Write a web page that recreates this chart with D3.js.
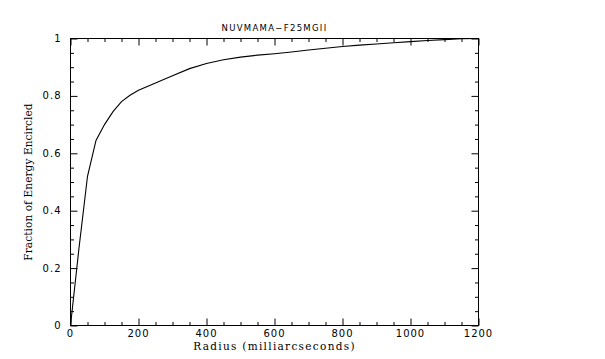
<!DOCTYPE html>
<html>
<head>
<meta charset="utf-8">
<script src="https://cdn.jsdelivr.net/npm/d3@7"></script>
<style>
  body { margin: 0; background: #fff; }
  svg { display: block; }
  .tick-label { font-family: "DejaVu Sans", sans-serif; font-size: 10px; letter-spacing: 1px; fill: #000; }
  .axis-title { font-family: "DejaVu Serif", serif; font-size: 10.5px; letter-spacing: 0.6px; fill: #000; }
</style>
</head>
<body>
<svg id="chart" width="605" height="359"></svg>
<script>
// encircled energy curve
const radius = [0, 25, 50, 75, 100, 125, 150, 175, 200, 250, 300, 350, 400, 450, 500,
  550, 600, 650, 700, 750, 800, 850, 900, 950, 1000, 1050, 1100, 1150, 1200];
const fraction = [0, 0.27, 0.52, 0.645, 0.70, 0.745, 0.78, 0.802, 0.82, 0.845, 0.87, 0.895, 0.913, 0.926, 0.935,
  0.942, 0.947, 0.953, 0.960, 0.966, 0.972, 0.977, 0.981, 0.985, 0.989, 0.993, 0.996, 0.999, 1.0];

const xMajor = [0, 200, 400, 600, 800, 1000, 1200];
const xMinorStep = 50;
const yMajor = [0, 0.2, 0.4, 0.6, 0.8, 1];
const yLabels = ['0', '0.2', '0.4', '0.6', '0.8', '1'];
const yMinorStep = 0.05;

const title = 'NUVMAMA\u2212F25MGII';
const xTitle = 'Radius (milliarcseconds)';
const yTitle = 'Fraction of Energy Encircled';

/* frame of the plot */
const frame = { left: 70.5, right: 478.5, top: 38.5, bottom: 325.5 };
const majorLen = 7;
const minorLen = 3.5;

const svg = d3.select('#chart');

const x = d3.scaleLinear().domain([0, 1200]).range([frame.left, frame.right]);
const y = d3.scaleLinear().domain([0, 1]).range([frame.bottom, frame.top]);

const xMinor = d3.range(0, 1200 + 1e-9, xMinorStep).filter(v => !xMajor.includes(v));
const yMinor = d3.range(0, 1 + 1e-9, yMinorStep)
  .map(v => +v.toFixed(2))
  .filter(v => !yMajor.some(m => Math.abs(m - v) < 1e-6));

/* ticks on all four sides, pointing inwards */
function ticks(axisFn, scale, values, len, at) {
  const g = svg.append('g')
    .attr('transform', at)
    .call(axisFn(scale).tickValues(values).tickSize(len).tickFormat(''));
  g.select('.domain').remove();
  g.selectAll('line').attr('stroke', '#000').attr('stroke-width', 1);
  g.selectAll('text').remove();
}

ticks(d3.axisBottom, x, xMajor, -majorLen, `translate(0,${frame.bottom})`);
ticks(d3.axisBottom, x, xMinor, -minorLen, `translate(0,${frame.bottom})`);
ticks(d3.axisTop, x, xMajor, -majorLen, `translate(0,${frame.top})`);
ticks(d3.axisTop, x, xMinor, -minorLen, `translate(0,${frame.top})`);
ticks(d3.axisLeft, y, yMajor, -majorLen, `translate(${frame.left},0)`);
ticks(d3.axisLeft, y, yMinor, -minorLen, `translate(${frame.left},0)`);
ticks(d3.axisRight, y, yMajor, -majorLen, `translate(${frame.right},0)`);
ticks(d3.axisRight, y, yMinor, -minorLen, `translate(${frame.right},0)`);

svg.append('rect')
  .attr('x', frame.left)
  .attr('y', frame.top)
  .attr('width', frame.right - frame.left)
  .attr('height', frame.bottom - frame.top)
  .attr('fill', 'none')
  .attr('stroke', '#000')
  .attr('stroke-width', 1);

/* tick labels */
svg.append('g').selectAll('text')
  .data(xMajor)
  .enter()
  .append('text')
  .attr('class', 'tick-label')
  .attr('x', d => x(d))
  .attr('y', frame.bottom + 11.5)
  .attr('text-anchor', 'middle')
  .text(d => d);

svg.append('g').selectAll('text')
  .data(yMajor)
  .enter()
  .append('text')
  .attr('class', 'tick-label')
  .attr('x', frame.left - 9)
  .attr('y', d => y(d) + 3.5)
  .attr('text-anchor', 'end')
  .text((d, i) => yLabels[i]);

/* the curve */
const line = d3.line()
  .x((d, i) => x(radius[i]))
  .y(d => y(d));

svg.append('path')
  .datum(fraction)
  .attr('d', line)
  .attr('fill', 'none')
  .attr('stroke', '#000')
  .attr('stroke-width', 1.1);

/* titles */
svg.append('text')
  .attr('class', 'tick-label')
  .attr('x', (frame.left + frame.right) / 2)
  .attr('y', 31)
  .attr('text-anchor', 'middle')
  .style('font-size', '8.5px')
  .style('letter-spacing', '1.3px')
  .text(title);

svg.append('text')
  .attr('class', 'axis-title')
  .attr('x', (frame.left + frame.right) / 2)
  .attr('y', 350)
  .attr('text-anchor', 'middle')
  .style('letter-spacing', '1.3px')
  .text(xTitle);

svg.append('text')
  .attr('class', 'axis-title')
  .attr('transform', `translate(32,${(frame.top + frame.bottom) / 2}) rotate(-90)`)
  .attr('text-anchor', 'middle')
  .style('letter-spacing', '0.1px')
  .text(yTitle);
</script>
</body>
</html>
